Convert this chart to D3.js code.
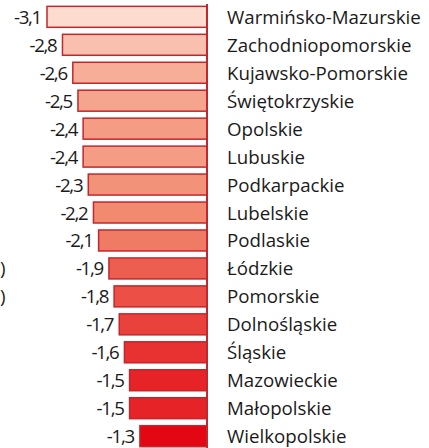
<!DOCTYPE html>
<html>
<head>
<meta charset="utf-8">
<script src="https://cdn.jsdelivr.net/npm/d3@7"></script>
<style>
  body { margin: 0; background: #fff; }
  text { font-family: "Open Sans", "Noto Sans", sans-serif; fill: #1a1a1a; }
</style>
</head>
<body>
<div id="chart"></div>
<script>
// data
var regions = ["Warmińsko-Mazurskie", "Zachodniopomorskie", "Kujawsko-Pomorskie", "Świętokrzyskie",
    "Opolskie", "Lubuskie", "Podkarpackie", "Lubelskie", "Podlaskie", "Łódzkie", "Pomorskie",
    "Dolnośląskie", "Śląskie", "Mazowieckie", "Małopolskie", "Wielkopolskie"];
var values = [-3.1, -2.8, -2.6, -2.5, -2.4, -2.4, -2.3, -2.2, -2.1, -1.9, -1.8, -1.7, -1.6, -1.5, -1.5, -1.3];
// stray brackets cut off at the left edge of the picture
var strayRows = ["Łódzkie", "Pomorskie"];

var svgWidth = 429;
var svgHeight = 448;

var svg = d3.select("#chart")
    .append("svg")
    .attr("width", svgWidth)
    .attr("height", svgHeight);

var zeroX = 207;

var x = d3.scaleLinear()
    .domain([-3.1, 0])
    .range([47, zeroX]);

var y = d3.scaleBand()
    .domain(regions)
    .range([3, 450])
    .paddingInner(0.25)
    .paddingOuter(0.12);

var color = d3.scaleLinear()
    .domain([-3.1, -2.2, -1.3])
    .range(["#fddbcf", "#f18a6e", "#e30613"]);

var rows = regions.map((r, i) => ({ region: r, value: values[i] }));

// bars
svg.selectAll("rect.bar")
    .data(rows)
    .enter()
    .append("rect")
    .attr("class", "bar")
    .attr("x", d => x(d.value))
    .attr("y", d => y(d.region))
    .attr("width", d => zeroX - x(d.value))
    .attr("height", y.bandwidth())
    .attr("fill", d => color(d.value))
    .attr("stroke", "#c1272d")
    .attr("stroke-width", 1.5);

// zero line
svg.append("line")
    .attr("x1", zeroX)
    .attr("x2", zeroX)
    .attr("y1", 4)
    .attr("y2", svgHeight)
    .attr("stroke", "#c1272d")
    .attr("stroke-width", 2);

var fontSize = "18.7px";

// value labels
svg.selectAll("text.val")
    .data(rows)
    .enter()
    .append("text")
    .attr("class", "val")
    .attr("x", d => x(d.value) - 6)
    .attr("y", d => y(d.region) + y.bandwidth() / 2 + 7)
    .attr("text-anchor", "end")
    .attr("font-size", fontSize)
    .attr("letter-spacing", "-1.3px")
    .text(d => String(d.value).replace(".", ","));

// region labels
svg.selectAll("text.reg")
    .data(rows)
    .enter()
    .append("text")
    .attr("class", "reg")
    .attr("x", 227)
    .attr("y", d => y(d.region) + y.bandwidth() / 2 + 7)
    .attr("font-size", fontSize)
    .text(d => d.region);

svg.selectAll("text.stray")
    .data(strayRows)
    .enter()
    .append("text")
    .attr("class", "stray")
    .attr("x", 0)
    .attr("y", d => y(d) + y.bandwidth() / 2 + 7)
    .attr("font-size", fontSize)
    .text(")");
</script>
</body>
</html>
